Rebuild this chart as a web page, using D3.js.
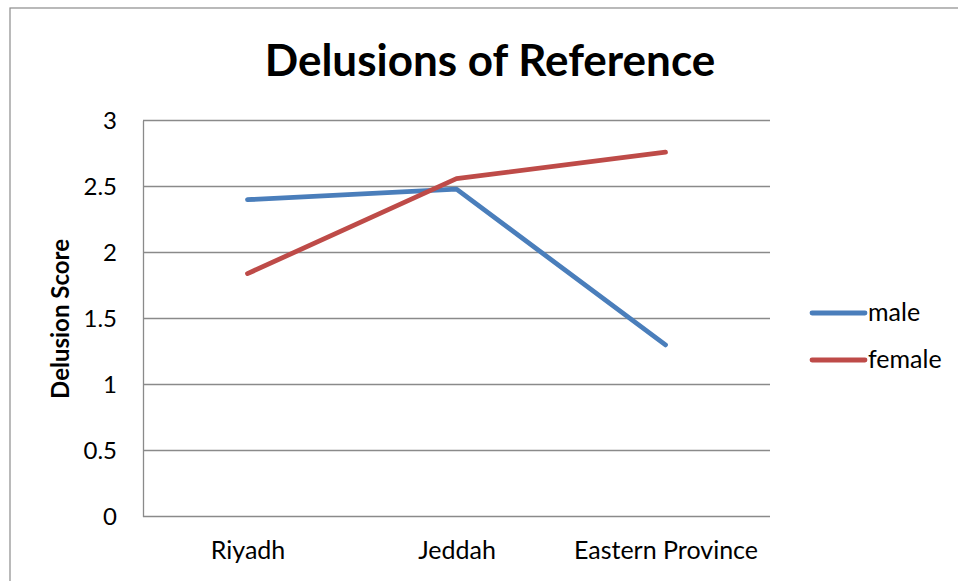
<!DOCTYPE html>
<html>
<head>
<meta charset="utf-8">
<script src="https://cdn.jsdelivr.net/npm/d3@7"></script>
<style>
  html, body { margin: 0; padding: 0; background: #fff; }
  svg { display: block; font-family: Lato, "Open Sans", sans-serif; }
</style>
</head>
<body>
<svg id="chart" width="958" height="581"></svg>
<script>
// Regions along the x axis
const categories = ["Riyadh", "Jeddah", "Eastern Province"];
// Mean delusion score per region
const maleValues = [2.40, 2.48, 1.30];
const femaleValues = [1.84, 2.56, 2.76];
// Y axis ticks
const yTicks = [0, 0.5, 1, 1.5, 2, 2.5, 3];

const series = [
  { name: "male", values: maleValues, color: "#4a7ebb" },
  { name: "female", values: femaleValues, color: "#be4b48" }
];

const svg = d3.select("#chart");
const plot = { left: 143, right: 770, top: 120.5, bottom: 516.5 };

// Outer chart frame
svg.append("rect")
  .attr("x", 10).attr("y", 8)
  .attr("width", 1000).attr("height", 700)
  .attr("fill", "none").attr("stroke", "#8c8c8c").attr("stroke-width", 1.2);

const x = d3.scalePoint().domain(categories)
  .range([plot.left, plot.right]).padding(0.5);
const y = d3.scaleLinear().domain([0, 3]).range([plot.bottom, plot.top]);

// Horizontal gridlines
svg.append("g").selectAll("line").data(yTicks).join("line")
  .attr("x1", plot.left).attr("x2", plot.right)
  .attr("y1", d => y(d)).attr("y2", d => y(d))
  .attr("stroke", "#8a8a8a").attr("stroke-width", 1.3);

// Y axis
const yAxis = svg.append("g")
  .attr("transform", `translate(${plot.left},0)`)
  .call(d3.axisLeft(y).tickValues(yTicks).tickSize(0).tickPadding(26).tickFormat(d3.format("")));
yAxis.select(".domain").attr("stroke", "#8a8a8a").attr("stroke-width", 1.3);
yAxis.selectAll("text").attr("font-size", 24).attr("fill", "#000")
  .attr("font-family", "Lato, sans-serif");

// X axis labels
const xAxis = svg.append("g")
  .attr("transform", `translate(0,${plot.bottom})`)
  .call(d3.axisBottom(x).tickSize(0).tickPadding(25));
xAxis.select(".domain").remove();
xAxis.selectAll("text").attr("font-size", 25).attr("fill", "#000")
  .attr("font-family", "Lato, sans-serif");

// Series lines
const line = d3.line().x((d, i) => x(categories[i])).y(d => y(d));
svg.append("g").selectAll("path").data(series).join("path")
  .attr("d", d => line(d.values))
  .attr("fill", "none")
  .attr("stroke", d => d.color)
  .attr("stroke-width", 4.8)
  .attr("stroke-linecap", "round")
  .attr("stroke-linejoin", "round");

// Title
svg.append("text")
  .attr("x", 490).attr("y", 76)
  .attr("text-anchor", "middle")
  .attr("font-size", 44).attr("font-weight", "bold")
  .text("Delusions of Reference");

// Y axis title
svg.append("text")
  .attr("transform", `translate(69,319) rotate(-90)`)
  .attr("text-anchor", "middle")
  .attr("font-size", 24).attr("font-weight", "bold")
  .text("Delusion Score");

// Legend
const legend = svg.append("g").selectAll("g").data(series).join("g")
  .attr("transform", (d, i) => `translate(812,${313 + i * 47})`);
legend.append("line")
  .attr("x1", 0).attr("x2", 53)
  .attr("stroke", d => d.color).attr("stroke-width", 4.8)
  .attr("stroke-linecap", "round");
legend.append("text")
  .attr("x", 56).attr("y", 8)
  .attr("font-size", 25)
  .text(d => d.name);
</script>
</body>
</html>
